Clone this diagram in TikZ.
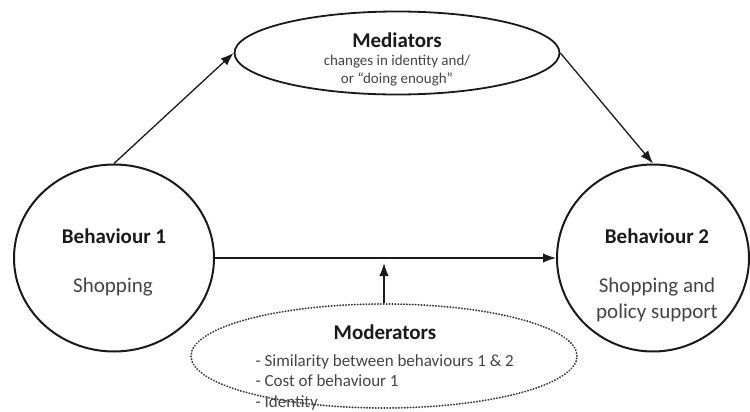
\documentclass[tikz,border=0pt]{standalone}
\usepackage{fontspec}
\setmainfont{Carlito}
\usepackage{tikz}
\usetikzlibrary{shapes.geometric,arrows.meta,positioning}
\usepackage{xcolor}
\definecolor{inkline}{HTML}{1A1A1A}
\definecolor{inktext}{HTML}{444444}
\definecolor{dotgray}{HTML}{3A3A3A}

\begin{document}
\begin{tikzpicture}[x=1pt,y=-1pt,>={Latex[length=13pt,width=9.5pt]},
    behav/.style={ellipse,draw=inkline,line width=2pt,inner sep=0pt,
                  minimum width=200pt,minimum height=187pt},
    title/.style={font=\fontsize{21}{25}\selectfont\bfseries,text=inkline},
    body/.style={font=\fontsize{21}{26}\selectfont,text=inktext,align=center},
    link/.style={->,inkline,line width=1.3pt}]
   \useasboundingbox (0,0) rectangle (750,412);

   % the three ovals and the two behaviours
   \node[behav] (b1) at (114,258) {};
   \node[behav,minimum width=192pt] (b2) at (653,258) {};
   \node[ellipse,draw=inkline,line width=1.8pt,inner sep=0pt,
         minimum width=325pt,minimum height=83pt] (med) at (397,53) {};
   \node[ellipse,draw=dotgray,line width=1.9pt,line cap=round,
         dash pattern=on 0.3pt off 2.6pt,inner sep=0pt,
         minimum width=386pt,minimum height=104pt] (mod) at (384,356) {};

   % texts
   \node[title] (b1t) at (114,236) {Behaviour 1};
   \node[body] (b1s) at (113,287) {Shopping};
   \node[title] (b2t) at (657,236) {Behaviour 2};
   \node[body] (b2s) at (657,300) {Shopping and\\policy support};
   \node[title] (medt) at (397,40) {Mediators};
   \node[body,font=\fontsize{15}{18}\selectfont] (meds) at (397,71)
        {changes in identity and/\\or “doing enough”};
   \node[title] (modt) at (385,332) {Moderators};
   \node[body,align=left,anchor=west,font=\fontsize{17}{20.5}\selectfont] (mods) at (252,382)
        {- Similarity between behaviours 1 \& 2\\- Cost of behaviour 1\\- Identity};

   % arrows
   \coordinate (hit) at (384,263);
   \draw[link] (b1.north) -- (med.west);
   \draw[link] (med.east) -- (b2.north);
   \draw[link] (b1.east) -- (b2.west);
   \draw[link] (mod) -- (hit);
\end{tikzpicture}
\end{document}
